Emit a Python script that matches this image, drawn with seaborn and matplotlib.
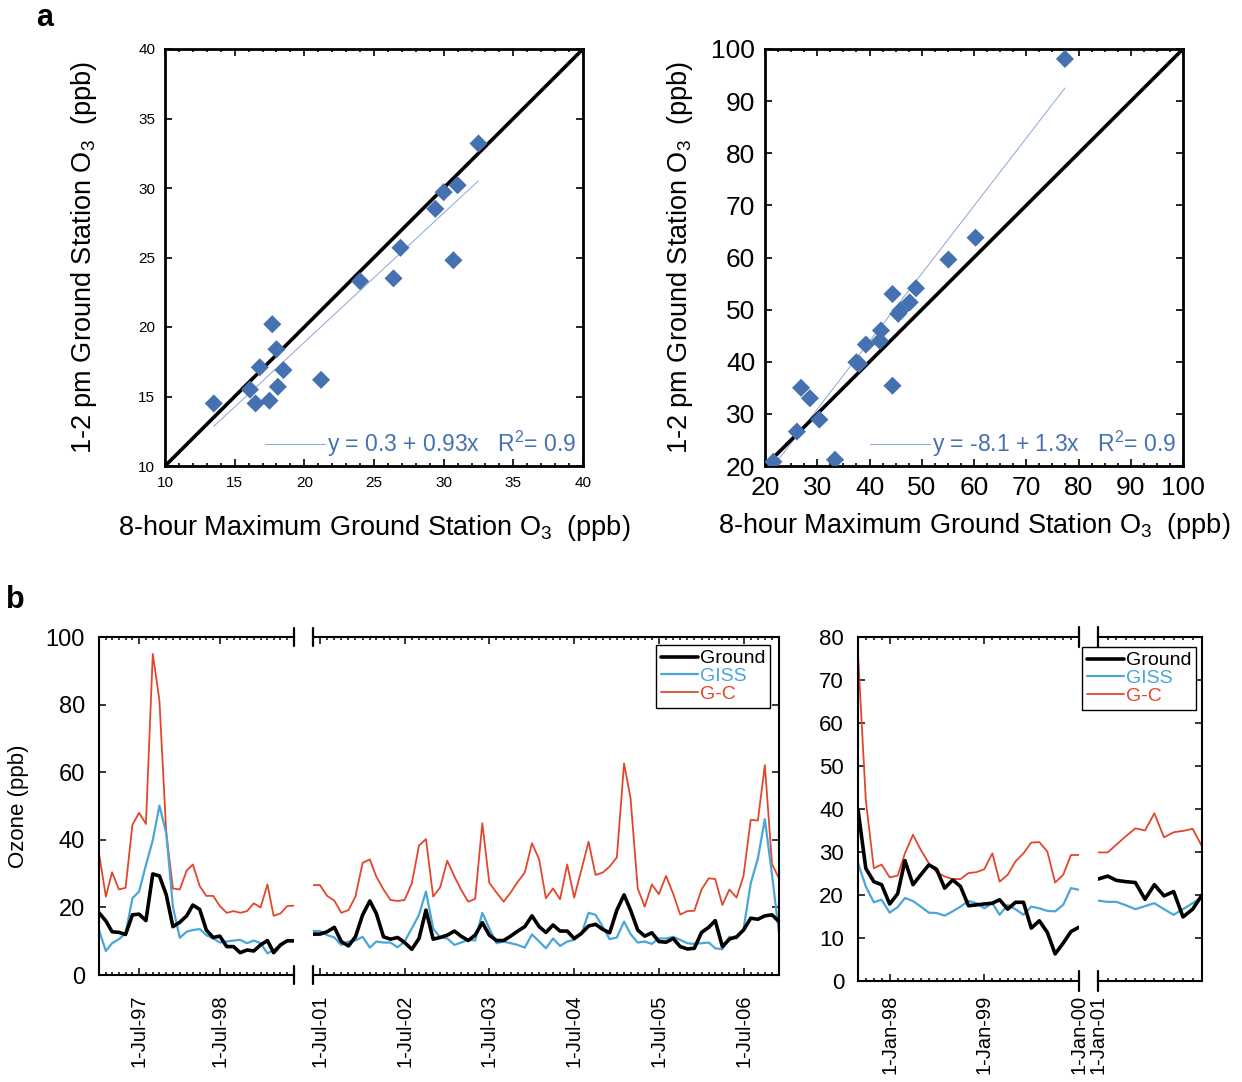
import numpy as np
import pandas as pd
import matplotlib
matplotlib.use("Agg")
import matplotlib.pyplot as plt
import matplotlib.dates as mdates
import matplotlib.ticker as mtick
import seaborn as sns

# ---- panel a, left: low ozone sites
lo_8hr = [13.5, 16.1, 16.5, 16.8, 17.7, 18.0, 17.5, 18.1, 18.5, 21.2,
          24.0, 26.4, 26.9, 29.4, 30.0, 31.0, 30.7, 32.5]
lo_1pm = [14.5, 15.5, 14.5, 17.1, 20.2, 18.4, 14.7, 15.7, 16.9, 16.2,
          23.3, 23.5, 25.7, 28.5, 29.7, 30.2, 24.8, 33.2]
lo_fit = (0.3, 0.93)
lo_label = "y = 0.3 + 0.93x   R$^2$= 0.9"

# ---- panel a, right
hi_8hr = [21.6, 26.1, 26.9, 28.6, 30.4, 33.4, 37.5, 38.0, 39.3, 42.0,
          42.2, 44.4, 44.4, 45.5, 45.9, 47.7, 48.9, 55.1, 60.3, 77.4]
hi_1pm = [20.8, 26.6, 35.0, 33.0, 28.9, 21.2, 39.9, 39.6, 43.3, 44.0,
          46.0, 53.0, 35.4, 49.2, 49.8, 51.4, 54.1, 59.6, 63.8, 98.1]
hi_fit = (-8.1, 1.3)
hi_label = "y = -8.1 + 1.3x   R$^2$= 0.9"

# ---- panel b, left (two pieces of a broken axis)
dates_p1 = pd.date_range("1997-01-01", periods=30, freq="MS")
ground_p1 = [18.4, 16.0, 12.8, 12.6, 12.0, 17.8, 18.0, 16.1, 29.9, 29.3,
             23.7, 14.3, 15.6, 17.5, 20.7, 19.4, 13.3, 11.1, 11.5, 8.4,
             8.4, 6.6, 7.4, 7.1, 8.9, 10.2, 6.6, 8.9, 10.1, 10.1]
giss_p1 = [13.3, 7.1, 9.4, 10.6, 12.3, 22.7, 24.7, 32.5, 39.9, 50.1,
           41.9, 20.2, 11.0, 12.8, 13.3, 13.6, 11.8, 10.8, 9.6, 9.9,
           10.2, 10.4, 9.4, 10.2, 9.4, 6.4, 7.4, 8.9, 10.1, 10.1]
gc_p1 = [36.0, 23.2, 30.4, 25.3, 25.8, 44.4, 48.0, 44.7, 95.0, 81.2,
         41.9, 25.6, 25.3, 30.9, 32.7, 26.3, 23.4, 23.4, 20.4, 18.4,
         18.9, 18.4, 18.9, 21.2, 20.0, 26.8, 17.5, 18.2, 20.4, 20.5]

dates_p2 = pd.date_range("2001-06-01", periods=67, freq="MS")
ground_p2 = [12.1, 12.1, 12.8, 14.1, 9.9, 8.6, 11.3, 17.8, 21.9, 18.2,
             11.3, 10.6, 11.1, 9.6, 7.6, 10.8, 19.2, 10.6, 11.1, 11.8,
             13.0, 11.5, 10.2, 11.8, 15.5, 11.8, 10.2, 10.2, 11.5, 13.0,
             14.3, 17.5, 14.3, 12.6, 14.8, 13.0, 13.0, 10.8, 12.3, 14.5,
             15.0, 13.5, 12.5, 19.2, 23.7, 19.2, 13.3, 11.5, 12.5, 9.9,
             9.7, 10.8, 8.4, 7.7, 7.9, 12.6, 14.1, 16.1, 8.4, 10.6,
             11.3, 13.3, 16.8, 16.5, 17.5, 17.8, 15.8]
giss_p2 = [13.0, 13.0, 11.8, 11.1, 8.9, 9.9, 10.2, 11.3, 8.1, 9.9,
           9.6, 9.6, 8.2, 9.9, 13.8, 17.8, 24.7, 13.8, 11.1, 10.8,
           8.9, 9.6, 10.4, 10.2, 18.4, 13.8, 9.4, 9.9, 9.4, 8.9,
           8.1, 12.0, 9.9, 7.9, 10.8, 8.6, 9.9, 10.4, 12.1, 18.4,
           17.8, 14.3, 10.6, 11.1, 15.8, 12.1, 9.6, 9.9, 9.2, 10.8,
           10.8, 11.3, 10.4, 9.4, 9.2, 9.4, 9.6, 7.9, 7.6, 11.3,
           10.8, 13.5, 27.1, 34.5, 46.1, 29.6, 12.3]
gc_p2 = [26.6, 26.6, 23.4, 22.0, 18.4, 19.2, 23.2, 33.2, 34.2, 29.1,
         25.3, 22.2, 21.9, 22.2, 27.1, 38.3, 40.2, 23.2, 25.9, 33.8,
         29.1, 25.3, 21.7, 22.5, 44.9, 27.3, 24.4, 21.7, 24.4, 27.6,
         30.3, 39.0, 34.2, 22.7, 25.6, 22.4, 32.7, 22.9, 31.1, 39.4,
         29.6, 30.3, 32.1, 34.8, 62.6, 52.3, 25.6, 20.2, 26.8, 23.9,
         29.3, 24.0, 17.9, 18.9, 19.0, 25.3, 28.6, 28.4, 20.7, 25.3,
         22.9, 29.3, 45.9, 45.7, 62.1, 32.8, 28.6]

# ---- panel b, right
dates_r1 = pd.date_range("1997-09-01", periods=29, freq="MS")
ground_r1 = [39.9, 26.2, 23.1, 22.4, 17.9, 20.3, 28.0, 22.4, 24.7, 27.0,
             26.0, 21.6, 23.5, 22.0, 17.5, 17.7, 17.9, 18.1, 18.9, 16.7,
             18.3, 18.3, 12.3, 14.0, 11.3, 6.3, 8.8, 11.5, 12.5]
giss_r1 = [27.4, 22.0, 18.3, 18.9, 15.9, 17.2, 19.3, 18.6, 17.3, 15.9,
           15.8, 15.2, 16.2, 17.3, 18.6, 18.1, 16.9, 18.1, 15.4, 17.7,
           16.7, 15.4, 17.3, 16.9, 16.3, 16.2, 17.7, 21.6, 21.2]
gc_r1 = [76.1, 42.1, 26.2, 27.1, 24.1, 24.5, 29.7, 34.0, 30.5, 27.4,
         25.3, 24.3, 23.7, 23.7, 25.1, 25.3, 26.0, 29.7, 23.1, 24.7,
         27.8, 29.7, 32.2, 32.3, 30.1, 22.9, 24.7, 29.3, 29.3]

dates_r2 = pd.date_range("2001-01-01", periods=12, freq="MS")
ground_r2 = [23.7, 24.4, 23.4, 23.1, 22.9, 19.0, 22.4, 19.8, 20.8, 14.9, 16.7, 20.0]
giss_r2 = [18.7, 18.4, 18.4, 17.6, 16.7, 17.4, 18.1, 16.7, 15.4, 16.7, 18.1, 19.5]
gc_r2 = [29.9, 29.9, 31.7, 33.7, 35.5, 35.0, 39.0, 33.4, 34.6, 34.9, 35.4, 31.3]

series_names = ["Ground", "GISS", "G-C"]
series_colors = ["black", "#4aa6d8", "#e2472c"]
series_lw = [2.6, 1.6, 1.3]

pt_color = "#4571b0"
fit_color = "#8aa6d6"

sns.set_style("ticks")
plt.rcParams["font.family"] = ["Liberation Sans", "DejaVu Sans"]
plt.rcParams["mathtext.default"] = "regular"
for key in ["text.color", "axes.labelcolor", "xtick.color", "ytick.color", "axes.edgecolor"]:
    plt.rcParams[key] = "black"

fig = plt.figure(figsize=(12.42, 10.82), dpi=100)


def px_axes(x0, y0, x1, y1):
    return fig.add_axes([x0 / 1242, 1 - y1 / 1082, (x1 - x0) / 1242, (y1 - y0) / 1082])


def scatter_panel(ax, x, y, fit, label, lim, major, minor, tick_fs):
    sns.scatterplot(x=x, y=y, ax=ax, marker="D", s=85, color=pt_color,
                    edgecolor="none", zorder=3)
    fx = np.array([min(x), max(x)])
    sns.lineplot(x=fx, y=fit[0] + fit[1] * fx, ax=ax, color=fit_color,
                 lw=0.7, label=label, zorder=2)
    ax.axline((0, 0), slope=1, color="black", lw=2.6, zorder=2)
    ax.set_xlim(*lim)
    ax.set_ylim(*lim)
    ax.xaxis.set_major_locator(mtick.MultipleLocator(major))
    ax.yaxis.set_major_locator(mtick.MultipleLocator(major))
    ax.xaxis.set_minor_locator(mtick.MultipleLocator(minor))
    ax.tick_params(which="both", direction="in", top=True, right=True,
                   labelsize=tick_fs, pad=7, width=1.2)
    ax.tick_params(which="major", length=5)
    ax.tick_params(which="minor", length=2.5)
    for s in ax.spines.values():
        s.set_linewidth(2)
    ax.legend(loc="lower right", frameon=False, labelcolor=pt_color,
              fontsize=16.5, handlelength=2.6, handletextpad=0.1,
              borderpad=0.1, borderaxespad=0.2)


ax_lo = px_axes(165, 49, 583, 466)
scatter_panel(ax_lo, lo_8hr, lo_1pm, lo_fit, lo_label, (10, 40), 5, 1, 11)
ax_lo.set_xlabel("8-hour Maximum Ground Station O$_3$  (ppb)", fontsize=19.5, labelpad=17)
ax_lo.set_ylabel("1-2 pm Ground Station O$_3$  (ppb)", fontsize=19.5, labelpad=28)

ax_hi = px_axes(765, 49, 1183, 466)
scatter_panel(ax_hi, hi_8hr, hi_1pm, hi_fit, hi_label, (20, 100), 10, 2.5, 19)
ax_hi.set_xlabel("8-hour Maximum Ground Station O$_3$  (ppb)", fontsize=19.5, labelpad=8)
ax_hi.set_ylabel("1-2 pm Ground Station O$_3$  (ppb)", fontsize=19.5, labelpad=12)


def series_panel(ax, dates, ground, giss, gc, ylim, ystep, tick_month, ytick_fs, side):
    vals = [ground, giss, gc]
    for i in [2, 1, 0]:
        sns.lineplot(x=dates, y=vals[i], ax=ax, color=series_colors[i],
                     lw=series_lw[i], label=series_names[i])
    ax.set_xlim(dates[0], dates[-1])
    ax.set_ylim(*ylim)
    ax.yaxis.set_major_locator(mtick.MultipleLocator(ystep))
    ax.xaxis.set_major_locator(mdates.MonthLocator(bymonth=tick_month))
    ax.xaxis.set_minor_locator(mdates.MonthLocator())
    ax.xaxis.set_major_formatter(mdates.DateFormatter("1-%b-%y"))
    ax.tick_params(which="both", direction="in", top=True, left=True, right=True, width=1.1)
    ax.tick_params(which="major", length=5)
    ax.tick_params(which="minor", length=2.2)
    ax.tick_params(axis="x", labelrotation=90, labelsize=14.5, pad=14)
    ax.tick_params(axis="y", labelsize=ytick_fs, pad=10)
    for s in ax.spines.values():
        s.set_linewidth(1.5)
    # broken-axis edges
    if side == "left":
        ax.spines["right"].set_visible(False)
        ax.tick_params(axis="y", right=False)
        edge = 1
    else:
        ax.spines["left"].set_visible(False)
        ax.tick_params(axis="y", left=False, labelleft=False)
        edge = 0
    for yy in ([-0.028, 0.028], [0.972, 1.028]):
        ax.plot([edge, edge], yy, transform=ax.transAxes, color="black",
                lw=1.6, clip_on=False)
    ax.set_xlabel("")
    ax.get_legend().remove()


ax_p1 = px_axes(99, 637, 294, 975)
series_panel(ax_p1, dates_p1, ground_p1, giss_p1, gc_p1, (0, 100), 20, 7, 17, "left")
ax_p1.set_ylabel("Ozone (ppb)", fontsize=16, labelpad=12)

ax_p2 = px_axes(313, 637, 779, 975)
series_panel(ax_p2, dates_p2, ground_p2, giss_p2, gc_p2, (0, 100), 20, 7, 17, "right")

ax_r1 = px_axes(858, 637, 1079, 981)
series_panel(ax_r1, dates_r1, ground_r1, giss_r1, gc_r1, (0, 80), 10, 1, 16, "left")
ax_r1.tick_params(axis="x", pad=10)

ax_r2 = px_axes(1098, 637, 1202, 981)
series_panel(ax_r2, dates_r2, ground_r2, giss_r2, gc_r2, (0, 80), 10, 1, 16, "right")
ax_r2.tick_params(axis="x", pad=10)

for ax, anchor in [(ax_p2, (770 / 1242, 1 - 645 / 1082)), (ax_r2, (1196 / 1242, 1 - 647 / 1082))]:
    h, l = ax.get_legend_handles_labels()
    order = [l.index(n) for n in series_names]
    leg = ax.legend([h[i] for i in order], [l[i] for i in order],
                    loc="upper right", bbox_to_anchor=anchor,
                    bbox_transform=fig.transFigure, fontsize=14,
                    labelcolor="linecolor", fancybox=False, framealpha=1,
                    edgecolor="black", handlelength=1.9, handletextpad=0.1,
                    borderpad=0.25, labelspacing=0.0, borderaxespad=0)
    leg.get_frame().set_linewidth(1.0)

fig.text(45 / 1242, 1 - 18 / 1082, "a", fontsize=22, fontweight="bold", ha="center", va="center")
fig.text(15 / 1242, 1 - 600 / 1082, "b", fontsize=22, fontweight="bold", ha="center", va="center")

fig.savefig("out.png", dpi=100)
